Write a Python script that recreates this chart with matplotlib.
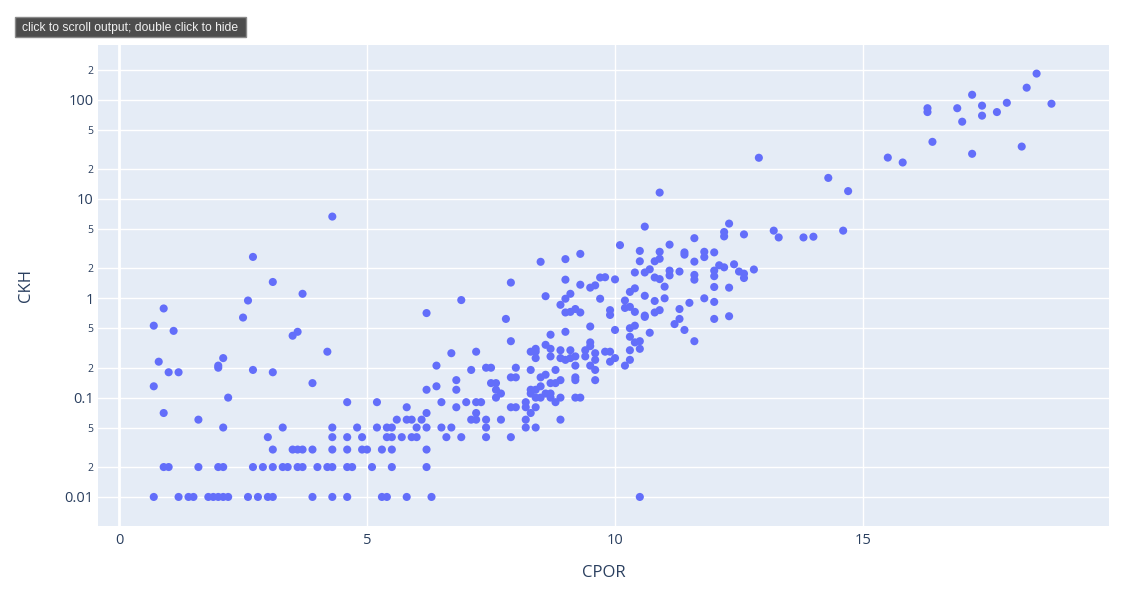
import matplotlib.pyplot as plt
from matplotlib.patches import Rectangle

# CPOR / CKH pairs, grouped by CPOR range
cpor_low = [4.3, 2.7, 3.1, 3.7, 2.6, 0.9, 2.5, 0.7, 1.1, 3.6, 3.5, 4.2, 0.8, 2.1, 2.0, 2.0,
            1.0, 1.2, 2.7, 3.1, 0.7, 2.2, 3.9, 0.9, 1.6, 2.1, 4.6, 4.3, 4.8, 3.3,
            3.0, 4.3, 4.6, 4.9,
            3.1, 3.5, 3.6, 3.7, 3.9, 4.3, 4.6, 4.9, 5.0,
            0.9, 1.0, 1.6, 2.0, 2.1, 2.7, 2.9, 3.1, 3.3, 3.4, 3.6, 3.7, 4.0, 4.2, 4.3, 4.6, 4.7, 5.1,
            0.7, 1.2, 1.4, 1.5, 1.8, 1.9, 2.0, 2.1, 2.2, 2.6, 2.8, 3.0, 3.1, 3.9, 4.3, 4.6]
ckh_low = [6.65, 2.61, 1.46, 1.11, 0.95, 0.79, 0.64, 0.53, 0.47, 0.46, 0.42, 0.29, 0.23, 0.25, 0.20, 0.21,
           0.18, 0.18, 0.19, 0.18, 0.13, 0.10, 0.14, 0.07, 0.06, 0.05, 0.09, 0.05, 0.05, 0.05,
           0.04, 0.04, 0.04, 0.04,
           0.03, 0.03, 0.03, 0.03, 0.03, 0.03, 0.03, 0.03, 0.03,
           0.02, 0.02, 0.02, 0.02, 0.02, 0.02, 0.02, 0.02, 0.02, 0.02, 0.02, 0.02, 0.02, 0.02, 0.02, 0.02, 0.02, 0.02,
           0.01, 0.01, 0.01, 0.01, 0.01, 0.01, 0.01, 0.01, 0.01, 0.01, 0.01, 0.01, 0.01, 0.01, 0.01, 0.01]

cpor_mid = [9.3, 9.0, 8.5, 9.0, 7.9, 9.3, 9.5, 9.6, 9.7, 9.8, 10.0,
            6.9, 8.6, 9.1, 9.0, 9.7, 8.9, 9.0, 9.1, 9.2, 9.3, 9.9, 9.9,
            6.2, 7.8, 9.5, 9.0, 8.7, 10.0, 7.9, 8.6, 8.7, 8.4, 8.3, 8.4, 8.4, 8.7,
            8.9, 8.9, 9.0, 9.1, 9.1, 9.2,
            9.4, 9.4, 9.5, 9.5, 9.5, 9.6, 9.6, 9.6, 9.6, 9.8, 9.9, 9.9,
            6.7, 7.2, 6.4, 7.1, 7.4, 7.5, 8.3, 8.0, 8.8, 9.2,
            7.9, 8.0, 8.5, 8.6, 8.7, 8.8, 8.9, 9.2, 9.2,
            7.5, 7.6, 7.6, 7.6, 7.7, 6.4, 6.8, 6.8, 6.2,
            8.3, 8.3, 8.4, 8.4, 8.5, 8.5, 8.6, 8.7, 8.7, 8.8, 8.9, 9.2, 9.3,
            8.2, 8.2, 8.3, 8.4, 8.2, 8.2, 8.4, 8.9, 7.9, 8.0, 7.9,
            7.4, 7.4, 7.4, 7.7, 7.1, 7.2, 7.2, 7.0, 7.2, 7.3, 6.5, 6.8,
            6.5, 6.7, 6.6, 6.9, 6.2, 6.2, 6.1, 6.0, 6.2, 6.2, 6.3,
            5.8, 5.6, 5.8, 5.9, 5.2, 5.2, 5.4, 5.5,
            5.4, 5.5, 5.7, 5.9, 6.0, 5.3, 5.5, 5.5, 5.3, 5.4, 5.8]
ckh_mid = [2.8, 2.48, 2.33, 1.54, 1.44, 1.37, 1.28, 1.35, 1.62, 1.63, 1.55,
           0.96, 1.05, 1.11, 0.99, 0.99, 0.86, 0.72, 0.73, 0.78, 0.72, 0.76, 0.68,
           0.71, 0.62, 0.52, 0.46, 0.43, 0.48, 0.37, 0.34, 0.31, 0.31, 0.29, 0.29, 0.25, 0.26,
           0.30, 0.25, 0.24, 0.30, 0.25, 0.26,
           0.30, 0.26, 0.36, 0.33, 0.21, 0.28, 0.24, 0.19, 0.15, 0.29, 0.29, 0.23,
           0.28, 0.29, 0.21, 0.19, 0.20, 0.20, 0.19, 0.20, 0.19, 0.21,
           0.16, 0.16, 0.16, 0.17, 0.14, 0.14, 0.15, 0.16, 0.15,
           0.14, 0.14, 0.12, 0.10, 0.11, 0.13, 0.15, 0.12, 0.12,
           0.12, 0.11, 0.12, 0.10, 0.13, 0.10, 0.11, 0.11, 0.10, 0.09, 0.10, 0.10, 0.10,
           0.09, 0.08, 0.07, 0.08, 0.06, 0.05, 0.05, 0.06, 0.08, 0.08, 0.04,
           0.06, 0.05, 0.04, 0.06, 0.06, 0.06, 0.07, 0.09, 0.09, 0.09, 0.09, 0.08,
           0.05, 0.05, 0.04, 0.04, 0.07, 0.05, 0.06, 0.05, 0.03, 0.02, 0.01,
           0.08, 0.06, 0.06, 0.06, 0.09, 0.05, 0.05, 0.05,
           0.04, 0.04, 0.04, 0.04, 0.04, 0.03, 0.03, 0.02, 0.01, 0.01, 0.01]

cpor_high = [10.9, 10.6, 10.1, 10.5, 10.9, 11.1, 10.5, 10.8, 10.9, 10.7, 10.6, 10.4,
             10.8, 10.9, 11.1, 11.1, 11.0, 11.0, 10.3, 10.4, 10.6, 10.2, 10.8,
             10.2, 10.3, 10.4, 10.8, 10.9, 10.6, 10.6, 11.2, 10.3, 10.4, 10.7,
             10.3, 10.4, 10.5, 10.3, 10.5, 10.3, 10.2, 10.0, 10.5,
             11.6, 12.3, 12.2, 12.2, 12.6, 13.2, 13.3, 11.4, 11.4, 11.8, 11.8, 12.0,
             11.6, 11.3, 11.6, 11.6, 12.0, 12.0, 12.1, 12.2, 12.4, 12.5, 12.6, 12.6, 12.8,
             12.0, 12.3, 11.8, 11.5, 12.0, 11.3, 11.3, 11.4, 12.0, 12.3, 11.6,
             12.9, 13.8, 14.0, 14.6, 14.3, 14.7, 15.5, 15.8, 16.3, 16.3, 16.4,
             16.9, 17.0, 17.2, 17.2, 17.4, 17.4, 17.7, 17.9, 18.2, 18.3, 18.5, 18.8]
ckh_high = [11.6, 5.27, 3.43, 3.0, 2.94, 3.47, 2.36, 2.36, 2.5, 1.96, 1.82, 1.82,
            1.62, 1.56, 1.9, 1.7, 1.31, 1.0, 1.16, 1.26, 1.06, 0.95, 0.94,
            0.80, 0.82, 0.73, 0.72, 0.76, 0.67, 0.65, 0.55, 0.50, 0.53, 0.45,
            0.41, 0.36, 0.37, 0.30, 0.31, 0.24, 0.21, 0.25, 0.01,
            4.03, 5.65, 4.65, 4.2, 4.4, 4.8, 4.1, 2.9, 2.75, 2.94, 2.6, 2.9,
            2.34, 1.86, 1.72, 1.54, 1.9, 1.67, 2.15, 2.05, 2.2, 1.86, 1.77, 1.6, 1.95,
            1.3, 1.28, 1.0, 0.9, 0.92, 0.78, 0.62, 0.48, 0.62, 0.66, 0.37,
            26, 4.1, 4.17, 4.8, 16.3, 12.0, 26.1, 23.3, 82, 75, 37.6,
            82, 60, 112, 28.5, 87, 69, 75, 93, 33.7, 132, 183, 91]

x_ticks = [0, 5, 10, 15]
y_major = [0.01, 0.1, 1, 10, 100]
y_major_labels = ["0.01", "0.1", "1", "10", "100"]
y_minor = [0.02, 0.05, 0.2, 0.5, 2, 5, 20, 50, 200]
y_minor_labels = ["2", "5", "2", "5", "2", "5", "2", "5", "2"]

plt.rcParams["font.family"] = ["Open Sans", "DejaVu Sans"]
txt = "#2a3f5f"

fig = plt.figure(figsize=(11.35, 6.09), dpi=100)
ax = fig.add_axes([0.0861, 0.1363, 0.891, 0.790])
ax.set_facecolor("#E5ECF6")

ax.scatter(cpor_low + cpor_mid + cpor_high, ckh_low + ckh_mid + ckh_high,
           s=34, color="#636EFA", edgecolors="none", zorder=3)

ax.set_yscale("log")
ax.set_xlim(-0.43, 19.96)
ax.set_ylim(0.0051, 356)

ax.set_xticks(x_ticks, [str(v) for v in x_ticks])
ax.set_yticks(y_major, y_major_labels)
ax.set_yticks(y_minor, y_minor_labels, minor=True)
ax.tick_params(axis="both", which="both", length=0, colors=txt)
ax.tick_params(axis="x", labelsize=10.5, pad=5)
ax.tick_params(axis="y", which="major", labelsize=10.5, pad=3)
ax.tick_params(axis="y", which="minor", labelsize=7.5, pad=3)

ax.grid(True, axis="x", which="major", color="white", lw=1)
ax.grid(True, axis="y", which="both", color="white", lw=1)
ax.axvline(0, color="white", lw=2, zorder=1)
ax.set_axisbelow(True)
for sp in ax.spines.values():
    sp.set_visible(False)

ax.set_xlabel("CPOR", fontsize=12, color=txt, labelpad=12)
ax.set_ylabel("CKH", fontsize=12, color=txt, labelpad=22)

# jupyter hover hint shown in the screenshot
fig.patches.append(Rectangle((15 / 1135, 1 - 37 / 609), 231 / 1135, 20 / 609,
                             transform=fig.transFigure, facecolor="#4d4d4d",
                             edgecolor="#8a8a8a", lw=1))
fig.text(22 / 1135, 1 - 27.5 / 609, "click to scroll output; double click to hide",
         fontsize=8.7, color="#f0f0f0", va="center", ha="left",
         family=["Liberation Sans", "DejaVu Sans"])

fig.savefig("out.png", dpi=100)
